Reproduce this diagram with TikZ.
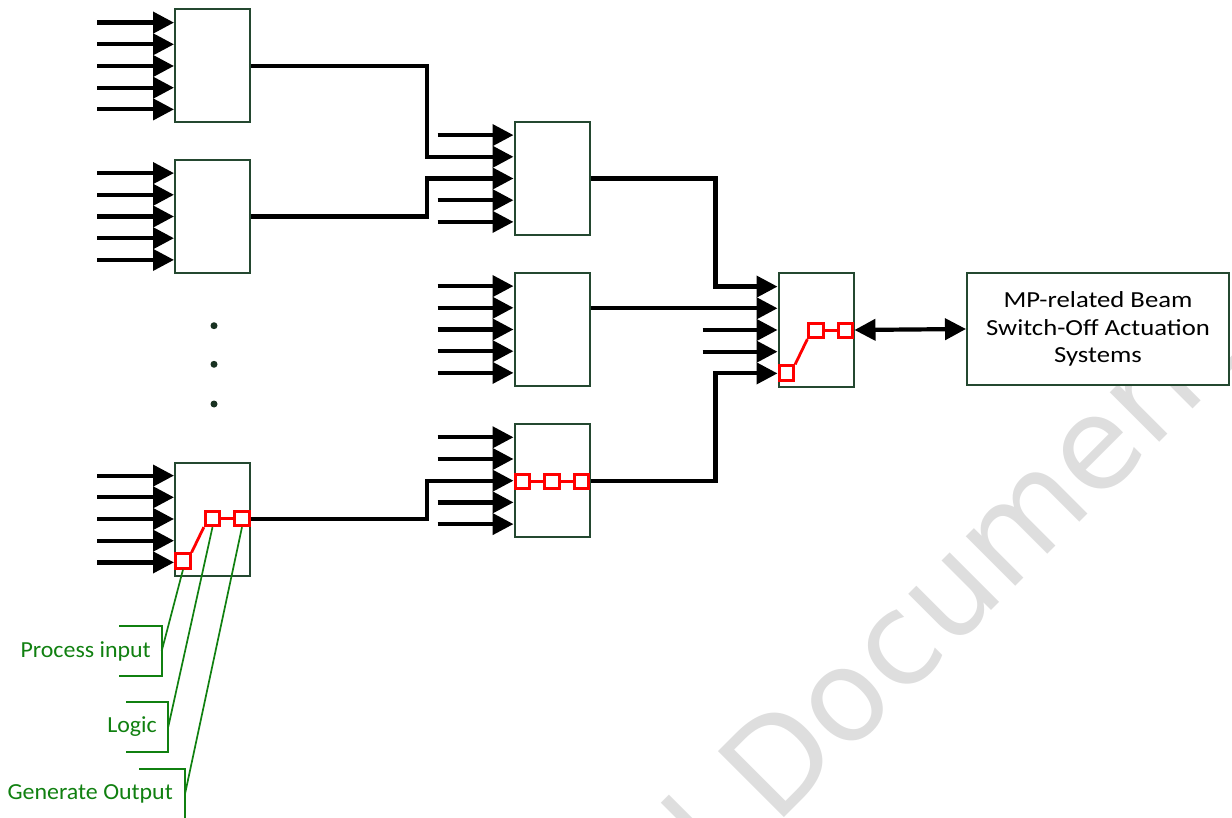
\documentclass[tikz,border=0pt]{standalone}
\usepackage{fontspec}
\setmainfont{Carlito}
\newfontfamily\wmfont{DejaVu Sans}
\newfontfamily\mpfont[FakeStretch=1.16]{Carlito}
\newfontfamily\lblfont[FakeStretch=1.04]{Carlito}
\usetikzlibrary{arrows.meta,calc}
\definecolor{boxgreen}{RGB}{36,72,48}
\definecolor{lblgreen}{RGB}{16,128,16}
\definecolor{wmgray}{RGB}{222,222,222}
\definecolor{sqred}{RGB}{255,0,0}
\begin{document}
\begin{tikzpicture}[x=1pt,y=-1pt,
  blk/.style={draw=boxgreen,line width=2pt,minimum width=75pt,minimum height=113pt,inner sep=0pt,fill=white},
  wire/.style={line width=4.2pt,black},
  arr/.style={wire,-{Triangle[length=21pt,width=21pt]}},
  dblarr/.style={wire,{Triangle[length=21pt,width=21pt]}-{Triangle[length=21pt,width=21pt]}},
  rsq/.style={draw=sqred,line width=2.8pt,fill=white,minimum size=14.5pt,inner sep=0pt},
  rline/.style={draw=sqred,line width=2.8pt},
  gl/.style={draw=lblgreen,line width=1.7pt},
  lbl/.style={text=lblgreen,inner sep=0pt,anchor=east,font=\lblfont\fontsize{23}{27}\selectfont},
  dotn/.style={circle,fill=boxgreen!70!black,minimum size=7pt,inner sep=0pt},
  mpbox/.style={draw=boxgreen,fill=white,line width=2pt,minimum width=262pt,minimum height=112pt,align=center,inner sep=0pt,font=\mpfont\fontsize{23}{27.5}\selectfont}
]
\useasboundingbox (0,0) rectangle (1232,818);
% watermark
\begin{scope}
\clip (0,0) rectangle (1232,818);
\node[font=\wmfont\fontsize{128}{128}\selectfont,text=wmgray,rotate=45,anchor=base west,inner sep=0pt] (wm) at (721.2,880.8) {l Document};
\end{scope}
% boxes
\node[blk] (a1) at (212.5,66) {};
\node[blk] (a2) at (212.5,216.5) {};
\node[blk] (a3) at (212.5,519) {};
\node[blk] (b1) at (552,178.5) {};
\node[blk] (b2) at (552,329.5) {};
\node[blk] (b3) at (552,480.7) {};
\node[blk] (c) at (816,330) {};
\node[mpbox] (mp) at (1098,329) {MP-related Beam\\Switch-Off Actuation\\Systems};
% input points
\foreach \b in {a1,a2,a3,b1,b2,b3,c}{
  \foreach \k/\dy in {1/-43.4,2/-21.7,3/0,4/21.7,5/43.4}{
    \coordinate (\b-i\k) at ($(\b.west)+(0,\dy)$);
  }
}
% stub inputs
\foreach \b/\k/\l in {a1/1/77,a1/2/77,a1/3/77,a1/4/77,a1/5/77,
  a2/1/77,a2/2/77,a2/3/77,a2/4/77,a2/5/77,
  a3/1/77,a3/2/77,a3/3/77,a3/4/77,a3/5/77,
  b1/1/76,b1/4/76,b1/5/76,
  b2/1/76,b2/2/76,b2/3/76,b2/4/76,b2/5/76,
  b3/1/76,b3/2/76,b3/4/76,b3/5/76,
  c/3/75,c/4/75}{
  \coordinate (\b-s\k) at ($(\b-i\k)+(-\l,0)$);
  \draw[arr] (\b-s\k) -- (\b-i\k);
}
% wires
\draw[arr] (a1.east) -- ++(176,0) |- (b1-i2);
\draw[arr] (a2.east) -- ++(176,0) |- (b1-i3);
\draw[arr] (a3.east) -- ++(176,0) |- (b3-i3);
\draw[arr] (b1.east) -- ++(125,0) |- (c-i1);
\draw[arr] (b2.east |- c-i2) -- (c-i2);
\draw[arr] (b3.east) -- ++(125,0) |- (c-i5);
\draw[dblarr] (c.east) -- (mp.west);
% dots
\node[dotn] (d1) at (214,325.7) {};
\node[dotn] (d2) at (214,364.3) {};
\node[dotn] (d3) at (214,404) {};
% red function blocks
\node[rsq] (s1) at (183,561) {};
\node[rsq] (s2) at (212.5,518.5) {};
\node[rsq] (s3) at (242,518.5) {};
\draw[rline] (s1.north east) -- (s2.south west);
\draw[rline] (s2.east) -- (s3.west);
\node[rsq] (t1) at (522.5,481.5) {};
\node[rsq] (t2) at (552,481.5) {};
\node[rsq] (t3) at (581.5,481.5) {};
\draw[rline] (t1.east) -- (t2.west);
\draw[rline] (t2.east) -- (t3.west);
\node[rsq] (u1) at (786.5,373) {};
\node[rsq] (u2) at (816,330.5) {};
\node[rsq] (u3) at (845.5,330.5) {};
\draw[rline] (u1.north east) -- (u2.south west);
\draw[rline] (u2.east) -- (u3.west);
% labels
\node[lbl] (pi) at (151,651) {Process input};
\node[lbl] (lg) at (157,727) {Logic};
\node[lbl] (go) at (173,793.5) {Generate Output};
\coordinate (pib) at (161.7,651);
\coordinate (lgb) at (168.3,726.7);
\coordinate (gob) at (185,794);
\draw[gl] ($(pib)+(-42.7,-25)$) -| ($(pib)+(0,25)$) -- ++(-42.7,0);
\draw[gl] ($(lgb)+(-42.3,-25)$) -| ($(lgb)+(0,25)$) -- ++(-42.3,0);
\draw[gl] ($(gob)+(-45.7,-25)$) -| ($(gob)+(0,25)$) -- ++(-45.7,0);
\draw[gl] (s1.south) -- (pib);
\draw[gl] (s2.south) -- (lgb);
\draw[gl] (s3.south) -- (gob);
\end{tikzpicture}
\end{document}
